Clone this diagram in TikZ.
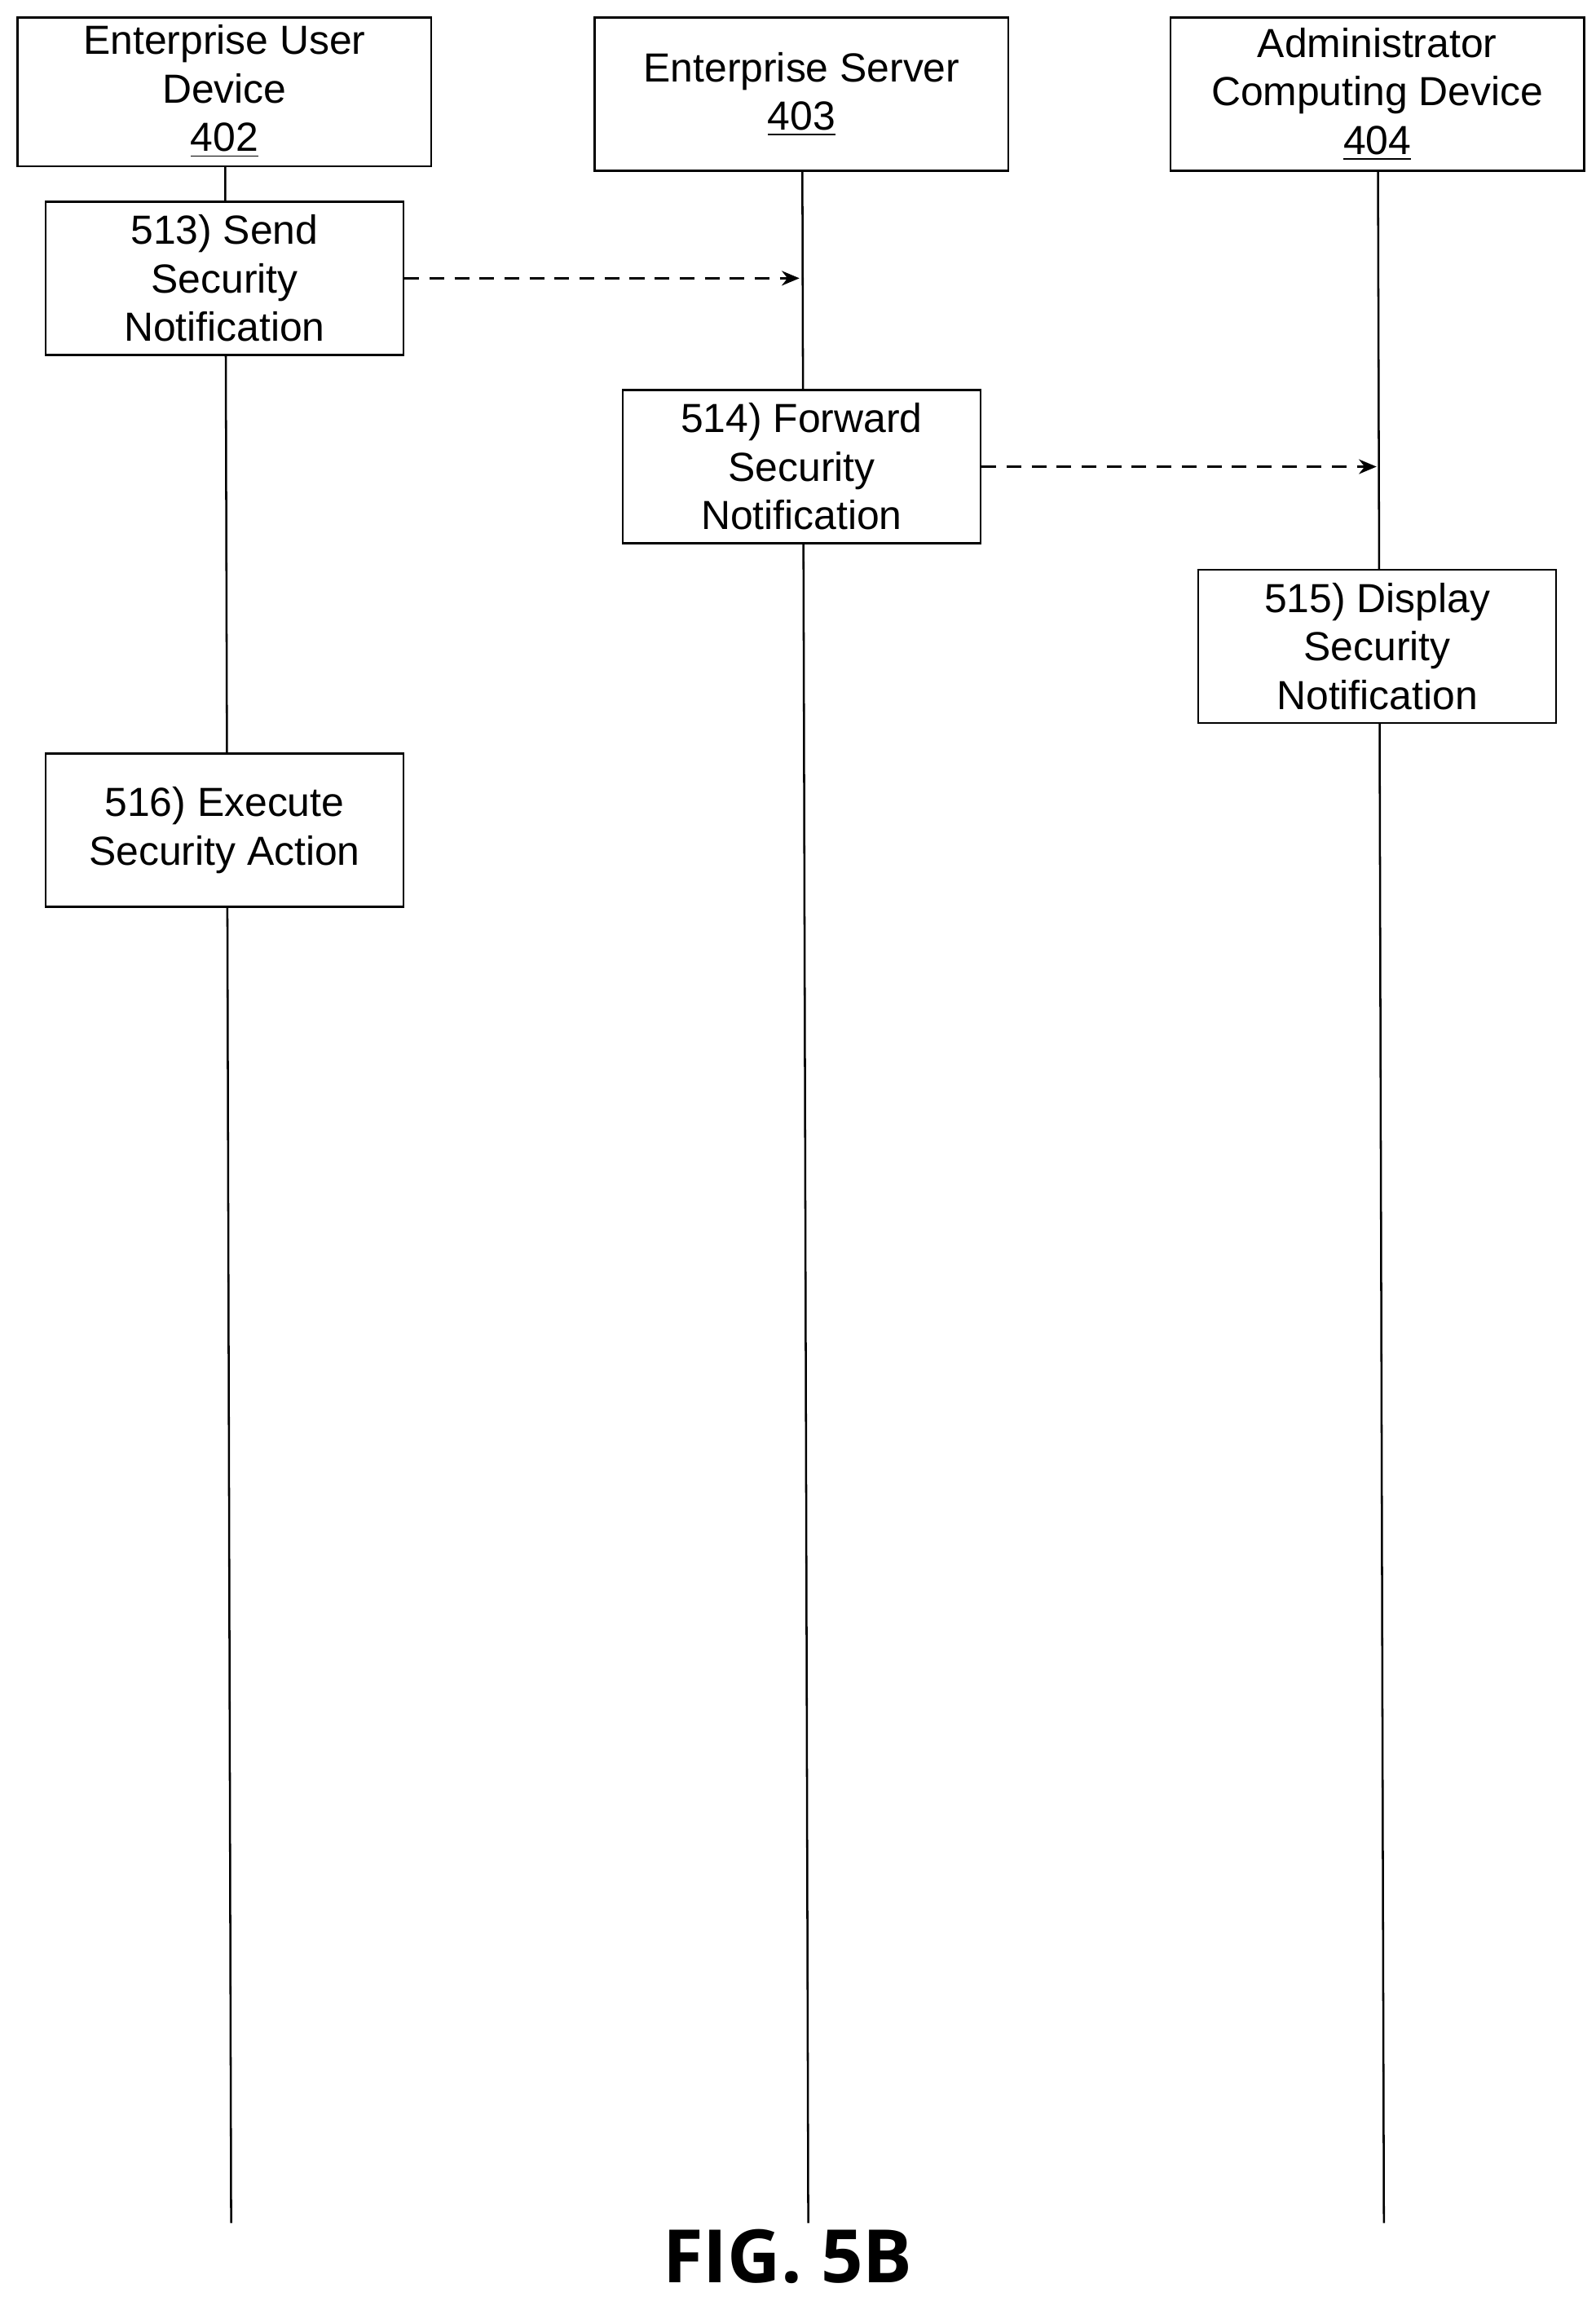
\documentclass[tikz,border=0pt]{standalone}
\usepackage{fontspec}
\setmainfont{Liberation Sans}
\newfontfamily\figfont{Open Sans}
\usetikzlibrary{arrows.meta}
\begin{document}
\begin{tikzpicture}[x=0.5pt,y=-0.5pt,
  box/.style={draw,line width=0.7pt,inner sep=0pt,minimum width=0pt},
  lbl/.style={align=center,font=\fontsize{13.8}{16.5}\selectfont},
  life/.style={line width=0.7pt},
  msg/.style={line width=0.7pt,dash pattern=on 5pt off 3.5pt,-{Stealth[length=6pt,width=5pt]}}]
\useasboundingbox (0,0) rectangle (1084,1563);
\draw[box] (12,12) rectangle (293,113);
\node[lbl] (t402) at (152.5,62) {Enterprise User\\Device\\\underline{402}};
\draw[box] (404,12) rectangle (685,116);
\node[lbl] (t403) at (544.5,64) {Enterprise Server\\\underline{403}};
\draw[box] (795,12) rectangle (1076,116);
\node[lbl] (t404) at (935.5,64) {Administrator\\Computing Device\\\underline{404}};
\coordinate (a1) at (153,113); \coordinate (a2) at (157,1510);
\coordinate (b1) at (545,116); \coordinate (b2) at (549,1510);
\coordinate (c1) at (936,116); \coordinate (c2) at (940,1510);
\draw[life] (a1) -- (a2);
\draw[life] (b1) -- (b2);
\draw[life] (c1) -- (c2);
\node[box,fill=white,minimum width=121.5pt,minimum height=52pt] (n513) at (152.5,189) {};
\node[lbl] at (n513) {513) Send\\Security\\Notification};
\node[box,fill=white,minimum width=121.5pt,minimum height=52pt] (n514) at (544.5,317) {};
\node[lbl] at (n514) {514) Forward\\Security\\Notification};
\node[box,fill=white,minimum width=121.5pt,minimum height=52pt] (n515) at (935.5,439) {};
\node[lbl] at (n515) {515) Display\\Security\\Notification};
\node[box,fill=white,minimum width=121.5pt,minimum height=52pt] (n516) at (152.5,564) {};
\node[lbl] at (n516) {516) Execute\\Security Action};
\coordinate (e1) at (543,189);
\coordinate (e2) at (935,317);
\draw[msg] (n513.east) -- (e1);
\draw[msg] (n514.east) -- (e2);
\node[font=\figfont\bfseries\fontsize{25}{27}\selectfont] (fig) at (535,1533) {FIG. 5B};
\end{tikzpicture}
\end{document}
